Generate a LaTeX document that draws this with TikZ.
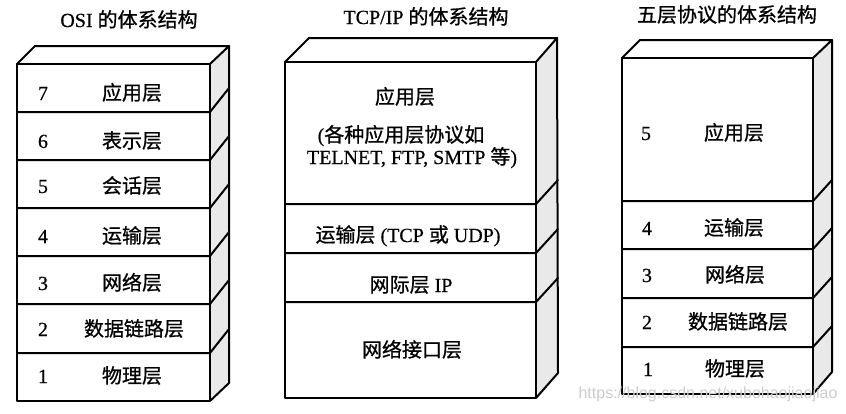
\documentclass[tikz,border=0pt]{standalone}
\usepackage{fontspec}
\setmainfont{Liberation Serif}[RawFeature={embolden=0.6}]
\newfontfamily\cjk{Noto Sans CJK SC}[RawFeature={embolden=0.8}]
\newfontfamily\wmfont{Liberation Sans}
\newcommand\zh[1]{{\cjk #1}}
\begin{document}
\begin{tikzpicture}[x=1pt,y=-1pt,
  edge/.style={line width=2pt,line join=round,line cap=round},
  sideface/.style={fill=gray!17},
  lab/.style={font=\fontsize{20}{24}\selectfont,inner sep=0pt,anchor=base},
  wm/.style={font=\wmfont\fontsize{16}{18}\selectfont,text=gray!40,inner sep=0pt,anchor=base}]
\useasboundingbox (0,0) rectangle (846,413);

% ---------------- OSI ----------------
\fill[sideface] (210,64) -- (229,46) -- (229,383) -- (210,401) -- cycle;
\draw[edge] (17,64) -- (35,46) -- (229,46) -- (210,64);
\draw[edge] (229,46) -- (229,383) -- (210,401);
\draw[edge] (17,64) rectangle (210,401);
\foreach \y in {112,160,208,256,304,353}{\draw[edge] (17,\y) -- (210,\y) -- ++(19,-24);}
\node[lab] (osiT) at (129,27) {OSI \zh{的体系结构}};
\node[lab] (o7n) at (43,100) {7}; \node[lab] (o7) at (132,100) {\zh{应用层}};
\node[lab] (o6n) at (43,148) {6}; \node[lab] (o6) at (132,148) {\zh{表示层}};
\node[lab] (o5n) at (43,193) {5}; \node[lab] (o5) at (132,193) {\zh{会话层}};
\node[lab] (o4n) at (43,243) {4}; \node[lab] (o4) at (132,243) {\zh{运输层}};
\node[lab] (o3n) at (43,290) {3}; \node[lab] (o3) at (132,290) {\zh{网络层}};
\node[lab] (o2n) at (43,336) {2}; \node[lab] (o2) at (134,336) {\zh{数据链路层}};
\node[lab] (o1n) at (43,383) {1}; \node[lab] (o1) at (132,383) {\zh{物理层}};

% ---------------- TCP/IP ----------------
\fill[sideface] (536,62) -- (557,38) -- (558,373) -- (536,398) -- cycle;
\draw[edge] (285,62) -- (309,38) -- (557,38) -- (536,62);
\draw[edge] (557,38) -- (558,373) -- (536,398);
\draw[edge] (285,62) rectangle (536,398);
\foreach \y in {204,253,302}{\draw[edge] (285,\y) -- (536,\y) -- ++(22,-24);}
\node[lab] (tcpT) at (426,24) {TCP/IP \zh{的体系结构}};
\node[lab] (t4) at (405,104) {\zh{应用层}};
\node[lab] (t4a) at (401,142) {(\zh{各种应用层协议如}};
\node[lab] (t4b) at (412,164) {TELNET, FTP, SMTP \zh{等})};
\node[lab] (t3) at (408,242) {\zh{运输层} (TCP \zh{或} UDP)};
\node[lab] (t2) at (411,292) {\zh{网际层} IP};
\node[lab] (t1) at (412,357) {\zh{网络接口层}};

% ---------------- Five layers ----------------
\fill[sideface] (813,58) -- (832,40) -- (832,372) -- (813,394) -- cycle;
\draw[edge] (622,58) -- (640,40) -- (832,40) -- (813,58);
\draw[edge] (832,40) -- (832,372) -- (813,394);
\draw[edge] (622,58) rectangle (813,394);
\foreach \y in {201,249,298,347}{\draw[edge] (622,\y) -- (813,\y) -- ++(19,-21);}
\node[lab] (fT) at (727,22) {\zh{五层协议的体系结构}};
\node[lab] (f5n) at (646,140) {5}; \node[lab] (f5) at (734,140) {\zh{应用层}};
\node[lab] (f4n) at (647,235) {4}; \node[lab] (f4) at (734,235) {\zh{运输层}};
\node[lab] (f3n) at (647,282) {3}; \node[lab] (f3) at (735,282) {\zh{网络层}};
\node[lab] (f2n) at (647,329) {2}; \node[lab] (f2) at (738,329) {\zh{数据链路层}};
\node[lab] (f1n) at (648,376) {1}; \node[lab] (f1) at (735,376) {\zh{物理层}};

% watermark
\node[wm] (wmk) at (708,398) {https://blog.csdn.net/xubohaojiaojiao};
\end{tikzpicture}
\end{document}
